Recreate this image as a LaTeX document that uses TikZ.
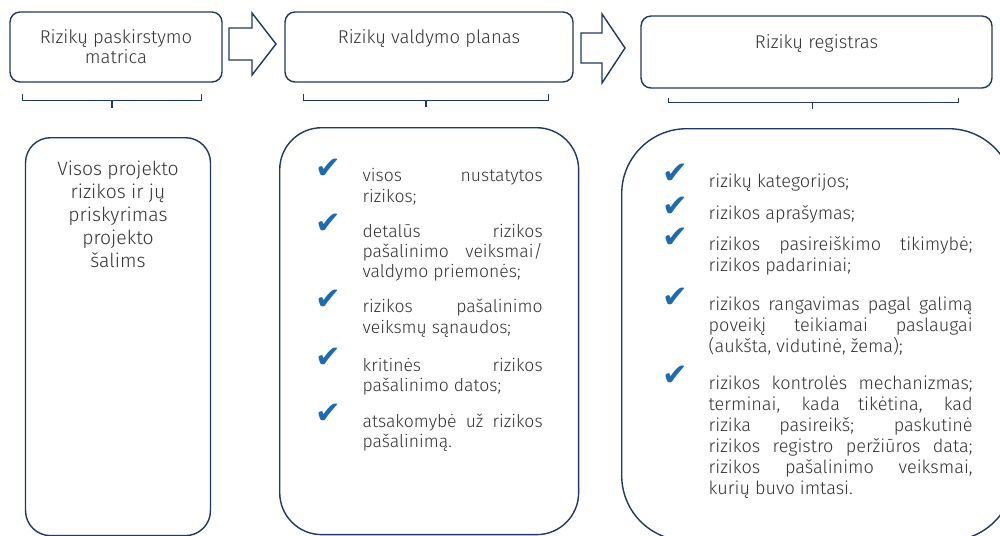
\documentclass[tikz,border=0pt]{standalone}
\usepackage{fontspec}
\setmainfont{Fira Sans Light}
\newfontfamily\symfont{DejaVu Sans}
\usepackage{xcolor}
\usetikzlibrary{positioning,calc}
\definecolor{rembas}{HTML}{1F3864}
\definecolor{tekstas}{HTML}{333333}
\definecolor{varnele}{HTML}{1F6BB0}

\newcommand{\varn}{\smash{\raisebox{2pt}{\textcolor{varnele}{\symfont\fontsize{17.5}{17.5}\selectfont ✔}}}}
\newcommand{\punktas}[3]{\noindent\makebox[#1][l]{\varn}\parbox[t]{#2}{\hyphenpenalty=10000 \tolerance=10000 \strut#3\strut}\par}

\begin{document}
\begin{tikzpicture}[
    x=0.02cm, y=-0.02cm,
    font=\fontsize{10}{12}\selectfont,
    every node/.style={text=tekstas},
    topbox/.style={
		rectangle,
		rounded corners=0.2cm,
		draw=rembas,
		line width=0.8pt,
		text centered,
		font=\fontsize{10.5}{11.4}\selectfont,
		fill=white
	},
    listbox/.style={
		rectangle,
		draw=rembas,
		line width=0.8pt,
		anchor=north west,
		fill=white
	},
	blockarrow/.style={
		draw=rembas,
		line width=0.8pt,
		fill=white,
		line join=miter
	},
	bracket/.style={
		draw=rembas,
		line width=0.8pt
	}
  ]

\useasboundingbox (0,0) rectangle (1000,535);

% // top row
\node [topbox, minimum width=4.24cm, minimum height=1.4cm, align=center] (matrica) at (116,47)
 {Rizikų paskirstymo\\matrica};
\node [topbox, minimum width=5.76cm, inner ysep=0.35cm] (planas) at (429,47)
 {\parbox[t][0.7cm][t]{5cm}{\centering Rizikų valdymo planas}};
\node [topbox, minimum width=7.02cm, inner ysep=0.37cm] (registras) at (816.5,52)
 {\parbox[t][0.7cm][t]{5cm}{\centering Rizikų registras}};

% // block arrows
\draw [blockarrow] (229,28) -- (252,28) -- (252,13) -- (276,44) -- (252,75) -- (252,60) -- (229,60) -- cycle;
\draw [blockarrow] (581,33) -- (602,33) -- (602,14) -- (625,48) -- (602,83) -- (602,63) -- (581,63) -- cycle;

% // brackets
\draw [bracket] ($(matrica.south west)+(13,11)$) -- ++(0,7) -| ($(matrica.south east)+(-21,11)$);
\draw [bracket] ($(matrica.south)+(-4,18)$) -- ++(0,7);
\draw [bracket] ($(planas.south west)+(19,11)$) -- ++(0,7) -| ($(planas.south east)+(-25,11)$);
\draw [bracket] ($(planas.south)+(-3,18)$) -- ++(0,6);
\draw [bracket] ($(registras.south west)+(28,9)$) -- ++(0,5) -| ($(registras.south east)+(-34,9)$);
\draw [bracket] ($(registras.south)+(-4,14)$) -- ++(0,6);

% // bottom row
\node [listbox, rounded corners=0.5cm, anchor=north, inner xsep=0.1cm, inner ysep=0.46cm] (visos) at (118,137)
 {\parbox[t][7.04cm][t]{3.5cm}{\centering\fontsize{11}{13.1}\selectfont
  Visos projekto\\ rizikos ir jų\\ priskyrimas\\ projekto\\ šalims}};

\node [listbox, rounded corners=0.84cm, inner xsep=0.72cm, inner ysep=0.8cm] (valdymas) at (279,127)
 {\parbox[t][6.54cm][t]{4.54cm}{\fontsize{10}{11.6}\selectfont\lineskiplimit=0pt\lineskip=0pt
  \punktas{0.94cm}{3.6cm}{visos nustatytos\linebreak rizikos;}
  \vspace{0.29cm}
  \punktas{0.94cm}{3.6cm}{detalūs rizikos\linebreak pašalinimo veiksmai/\linebreak valdymo priemonės;}
  \vspace{0.29cm}
  \punktas{0.94cm}{3.6cm}{rizikos pašalinimo\linebreak veiksmų sąnaudos;}
  \vspace{0.35cm}
  \punktas{0.94cm}{3.6cm}{kritinės rizikos\linebreak pašalinimo datos;}
  \vspace{0.31cm}
  \punktas{0.94cm}{3.6cm}{atsakomybė už rizikos\linebreak pašalinimą.}
 }};

\node [listbox, rounded corners=1.3cm, inner xsep=0.82cm, inner ysep=0.88cm] (registrasturinys) at (621,128)
 {\parbox[t][6.48cm][t]{6.2cm}{\fontsize{10.3}{12}\selectfont\lineskiplimit=0pt\lineskip=0pt
  \punktas{0.92cm}{5.28cm}{rizikų kategorijos;}
  \vspace{0.22cm}
  \punktas{0.92cm}{5.28cm}{rizikos aprašymas;}
  \vspace{0.2cm}
  \punktas{0.92cm}{5.28cm}{rizikos pasireiškimo tikimybė;\linebreak rizikos padariniai;}
  \vspace{0.36cm}
  \punktas{0.92cm}{5.28cm}{rizikos rangavimas pagal galimą\linebreak poveikį teikiamai paslaugai\linebreak (aukšta, vidutinė, žema);}
  \vspace{0.3cm}
  \punktas{0.92cm}{5.28cm}{rizikos kontrolės mechanizmas;\linebreak terminai, kada tikėtina, kad\linebreak rizika pasireikš; paskutinė\linebreak rizikos registro peržiūros data;\linebreak rizikos pašalinimo veiksmai,\linebreak kurių buvo imtasi.}
 }};

\end{tikzpicture}
\end{document}
